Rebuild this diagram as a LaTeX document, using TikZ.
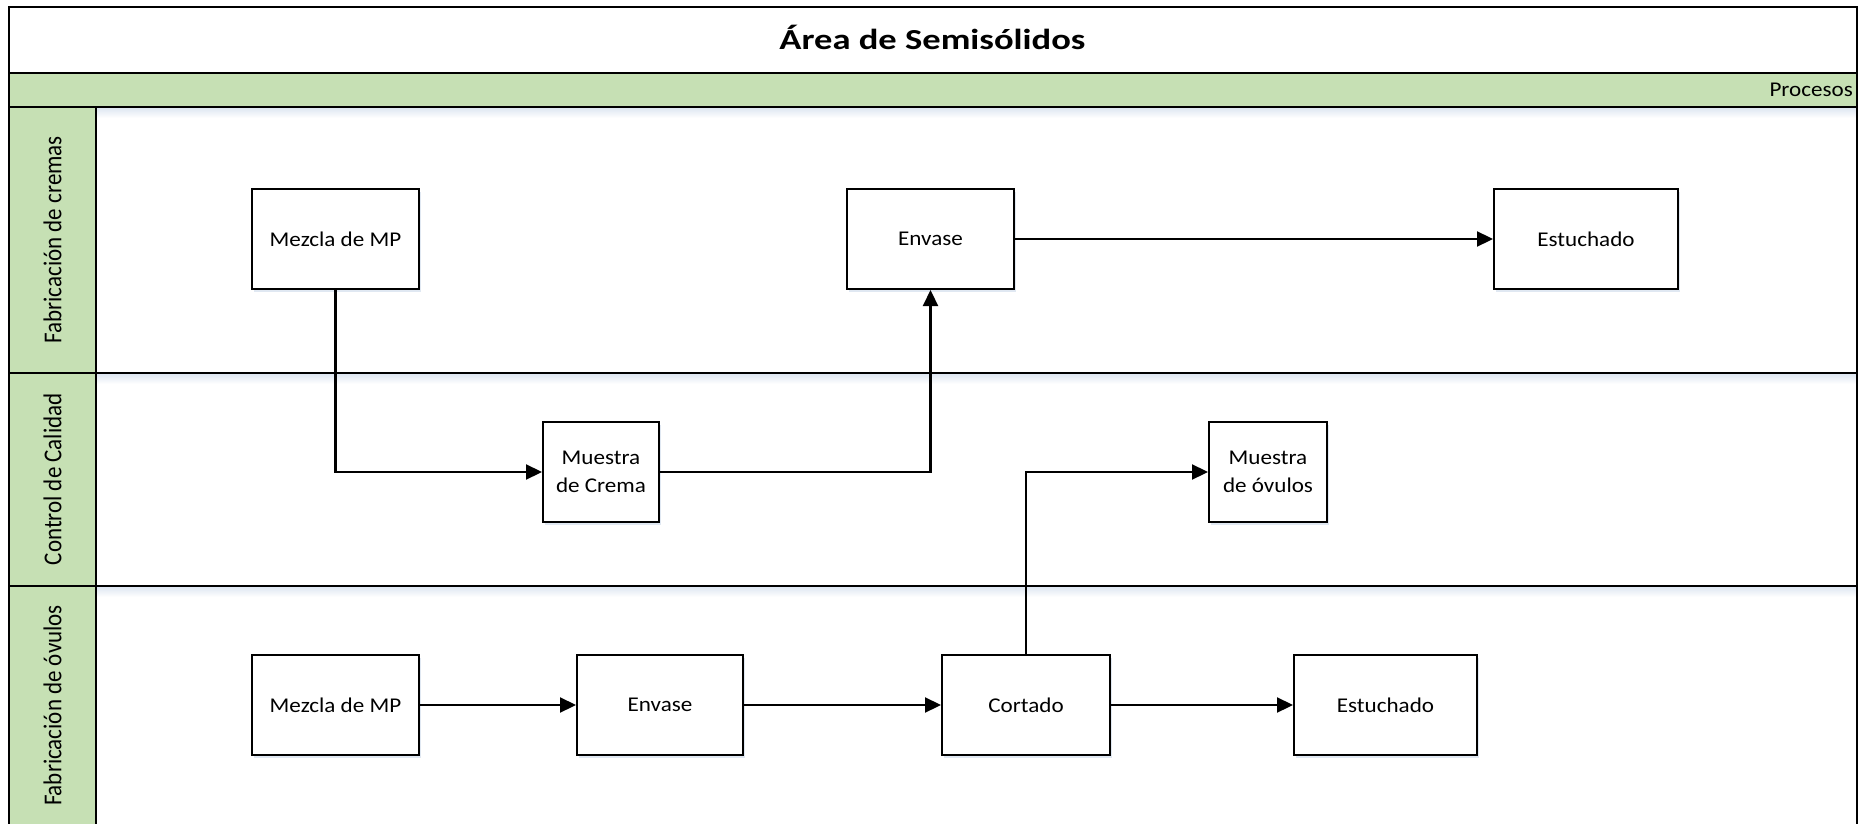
\documentclass[tikz,border=0pt]{standalone}
\usepackage{fontspec}
\setmainfont{Carlito}
\newfontfamily\boxfont{Carlito}[FakeStretch=1.1]
\newfontfamily\titlefont{Carlito}[FakeStretch=1.26]
\usetikzlibrary{arrows.meta,shadows}
\definecolor{lanegreen}{HTML}{C6E0B4}
\definecolor{glow}{HTML}{DDE6F1}

\begin{document}
\begin{tikzpicture}[x=1pt,y=-1pt,
  frame/.style={draw=black, line width=2.3pt},
  procbox/.style={draw=black, line width=2pt, fill=white,
    minimum height=100pt, inner sep=0pt, align=center,
    font=\boxfont\fontsize{21}{27.6}\selectfont,
    drop shadow={shadow xshift=1.5pt, shadow yshift=-3pt, fill=glow, opacity=0.9}},
  flow/.style={draw=black, line width=2.2pt, -{Triangle[length=16pt,width=15pt]}},
  lanelabel/.style={rotate=90, anchor=base, inner sep=0pt,
    font=\fontsize{23}{27}\selectfont},
  shine/.style={top color=glow, bottom color=white, draw=none}
]
\useasboundingbox (0,0) rectangle (1861,824);
\fill[white] (0,0) rectangle (1861,824);

% header band and lane-name column
\fill[lanegreen] (8.7,72.7) rectangle (1857,106.7);
\fill[lanegreen] (8.7,106.7) rectangle (96,824);

% soft glow under the lane separators
\shade[shine] (96,107.5) rectangle (1856,118);
\shade[shine] (96,373.5) rectangle (1856,384);
\shade[shine] (96,586.5) rectangle (1856,597);

% pool frame and lane separators
\draw[frame] (8.7,824) -- (8.7,6.7) -- (1857,6.7) -- (1857,824);
\draw[frame] (8.7,72.7) -- (1857,72.7);
\draw[frame] (8.7,106.7) -- (1857,106.7);
\draw[frame] (8.7,372.7) -- (1857,372.7);
\draw[frame] (8.7,585.7) -- (1857,585.7);
\draw[frame] (96,106.7) -- (96,824);

% titles
\node[anchor=base, inner sep=0pt, font=\titlefont\bfseries\fontsize{29}{34}\selectfont]
  (title) at (932.5,50) {Área de Semisólidos};
\node[anchor=base east, inner sep=0pt, font=\boxfont\fontsize{21}{25}\selectfont]
  (procesos) at (1853,96.7) {Procesos};

% lane names
\node[lanelabel] (lane1) at (61.3,239.7) {\scalebox{1}[1.12]{Fabricación de cremas}};
\node[lanelabel] (lane2) at (61.3,479.2) {\scalebox{1}[1.12]{Control de Calidad}};
\node[lanelabel] (lane3) at (61.3,705.5) {\scalebox{1}[1.12]{Fabricación de óvulos}};

% process steps
\node[procbox, minimum width=167pt] (m1) at (335.5,239) {Mezcla de MP};
\node[procbox, minimum width=167pt] (e1) at (930.5,239) {Envase};
\node[procbox, minimum width=184pt] (s1) at (1586,239) {Estuchado};
\node[procbox, minimum width=116pt] (q1) at (601,472) {Muestra\\de Crema};
\node[procbox, minimum width=118pt] (q2) at (1268,472) {Muestra\\de óvulos};
\node[procbox, minimum width=167pt] (m3) at (335.5,705) {Mezcla de MP};
\node[procbox, minimum width=166pt] (e3) at (660,705) {Envase};
\node[procbox, minimum width=168pt] (c3) at (1026,705) {Cortado};
\node[procbox, minimum width=183pt] (s3) at (1385.5,705) {Estuchado};

% flows
\draw[flow] (m1.south) |- (q1.west);
\draw[flow] (q1.east) -| (e1.south);
\draw[flow] (e1.east) -- (s1.west);
\draw[flow] (m3.east) -- (e3.west);
\draw[flow] (e3.east) -- (c3.west);
\draw[flow] (c3.east) -- (s3.west);
\draw[flow] (c3.north) |- (q2.west);
\end{tikzpicture}
\end{document}
